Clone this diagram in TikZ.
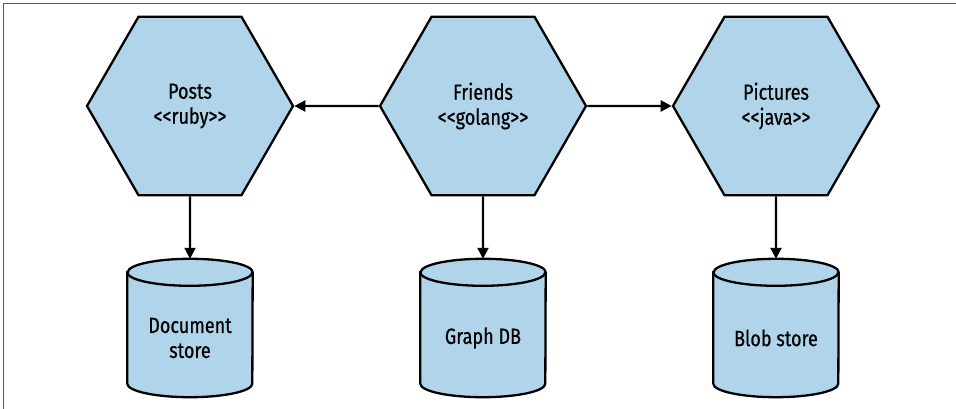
\documentclass[tikz,border=0pt]{standalone}
\usepackage{fontspec}
\setmainfont[Ligatures=TeXOff,FakeStretch=0.82,FakeBold=0.6]{Fira Sans}
\usepackage{tikz}
\usetikzlibrary{shapes.geometric,arrows.meta}
\definecolor{svcblue}{RGB}{176,212,234}
\definecolor{framegray}{RGB}{90,90,90}
\tikzset{
  service/.style={regular polygon,regular polygon sides=6,draw,fill=svcblue,
    line width=2.3pt,minimum size=206pt,inner sep=0pt,align=center,
    font=\fontsize{22}{25}\selectfont},
  storebox/.style={rectangle,minimum width=125pt,minimum height=138pt,inner sep=0pt},
  storeline/.style={draw,fill=svcblue,line width=2.3pt},
  storetext/.style={yshift=-10pt,align=center,font=\fontsize{22}{25}\selectfont},
  link/.style={line width=2.3pt,-{Triangle[length=11pt,width=11pt]}}
}
\begin{document}
\begin{tikzpicture}[x=1pt,y=1pt]
    \useasboundingbox (0,0) rectangle (956,409);
    \draw[framegray,line width=1.6pt] (3.5,0) -- (3.5,405.5) -- (956,405.5);
    \node[service] (posts) at (190,303) {Posts\\<<ruby>>};
    \node[service] (friends) at (483,303) {Friends\\<<golang>>};
    \node[service] (pictures) at (776,303) {Pictures\\<<java>>};
    \node[storebox] (docstore) at (190,81) {};
    \node[storebox] (graphdb) at (483,81) {};
    \node[storebox] (blobstore) at (776,81) {};
    \foreach \n in {docstore,graphdb,blobstore}{
      \path[storeline] ([yshift=-13.5pt]\n.north west) -- ([yshift=13.5pt]\n.south west)
        arc[start angle=180,end angle=360,x radius=62.5pt,y radius=13.5pt]
        -- ([yshift=-13.5pt]\n.north east)
        arc[start angle=0,end angle=180,x radius=62.5pt,y radius=13.5pt] -- cycle;
      \draw[line width=2.3pt] ([yshift=-13.5pt]\n.north west)
        arc[start angle=180,end angle=360,x radius=62.5pt,y radius=13.5pt];
    }
    \node[storetext] at (docstore) {Document\\store};
    \node[storetext] at (graphdb) {Graph DB};
    \node[storetext] at (blobstore) {Blob store};
    \draw[link] (friends.west) -- (posts.east);
    \draw[link] (friends.east) -- (pictures.west);
    \draw[link] (posts.south) -- (docstore.north);
    \draw[link] (friends.south) -- (graphdb.north);
    \draw[link] (pictures.south) -- (blobstore.north);
  \end{tikzpicture}
\end{document}
